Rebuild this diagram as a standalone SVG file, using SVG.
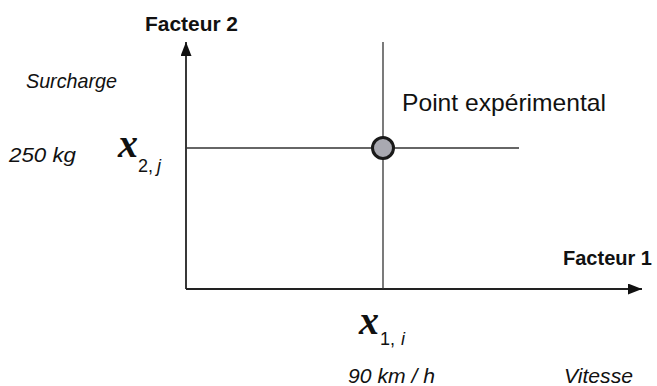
<svg xmlns="http://www.w3.org/2000/svg" width="657" height="386" viewBox="0 0 657 386">
<style>
.ax{stroke:#222;stroke-width:1.8;fill:none}
.ln{stroke:#333;stroke-width:1.3;fill:none}
.t{font-family:"Liberation Sans",Arial,sans-serif;fill:#111}
.b{font-weight:bold;font-size:20px}
.i{font-style:italic;font-size:21px}
.v{font-family:"Liberation Serif","Times New Roman",serif;font-weight:bold;font-style:italic;font-size:40px;fill:#111}
.s{font-family:"Liberation Sans",Arial,sans-serif;font-size:18px;fill:#111}
</style>
<defs>
<marker id="ah" viewBox="0 0 14 11" refX="14" refY="5.5" markerWidth="14" markerHeight="11" markerUnits="userSpaceOnUse" orient="auto">
<path d="M0,0 L14,5.5 L0,11 z" fill="#111"/>
</marker>
</defs>
<g id="connectors">
<line class="ax" x1="186" y1="289" x2="186" y2="42" marker-end="url(#ah)"/>
<line class="ax" x1="186" y1="289" x2="642" y2="289" marker-end="url(#ah)"/>
<line class="ln" x1="383" y1="42" x2="383" y2="289"/>
<line class="ln" x1="186" y1="148" x2="519" y2="148"/>
</g>
<g id="point">
<circle cx="383" cy="148" r="10.5" fill="#a9a9b1" stroke="#1a1a1a" stroke-width="3"/>
</g>
<g id="labels">
<text class="t b" x="145" y="31" textLength="93" lengthAdjust="spacingAndGlyphs">Facteur 2</text>
<text class="t i" x="26" y="88" textLength="91" lengthAdjust="spacingAndGlyphs">Surcharge</text>
<text class="t" x="402" y="111" font-size="24" textLength="204" lengthAdjust="spacingAndGlyphs">Point expérimental</text>
<text class="t i" x="9" y="162" textLength="67" lengthAdjust="spacingAndGlyphs">250 kg</text>
<text class="v" x="118" y="157">x</text>
<text class="s" x="138" y="172">2,</text>
<text class="s" x="157" y="172" font-style="italic">j</text>
<text class="t b" x="563" y="265" textLength="89" lengthAdjust="spacingAndGlyphs">Facteur 1</text>
<text class="v" x="359" y="334">x</text>
<text class="s" x="380" y="345">1,</text>
<text class="s" x="401" y="345" font-style="italic">i</text>
<text class="t i" x="348" y="383" textLength="87" lengthAdjust="spacingAndGlyphs">90 km / h</text>
<text class="t i" x="564" y="383" textLength="69" lengthAdjust="spacingAndGlyphs">Vitesse</text>
</g>
</svg>
